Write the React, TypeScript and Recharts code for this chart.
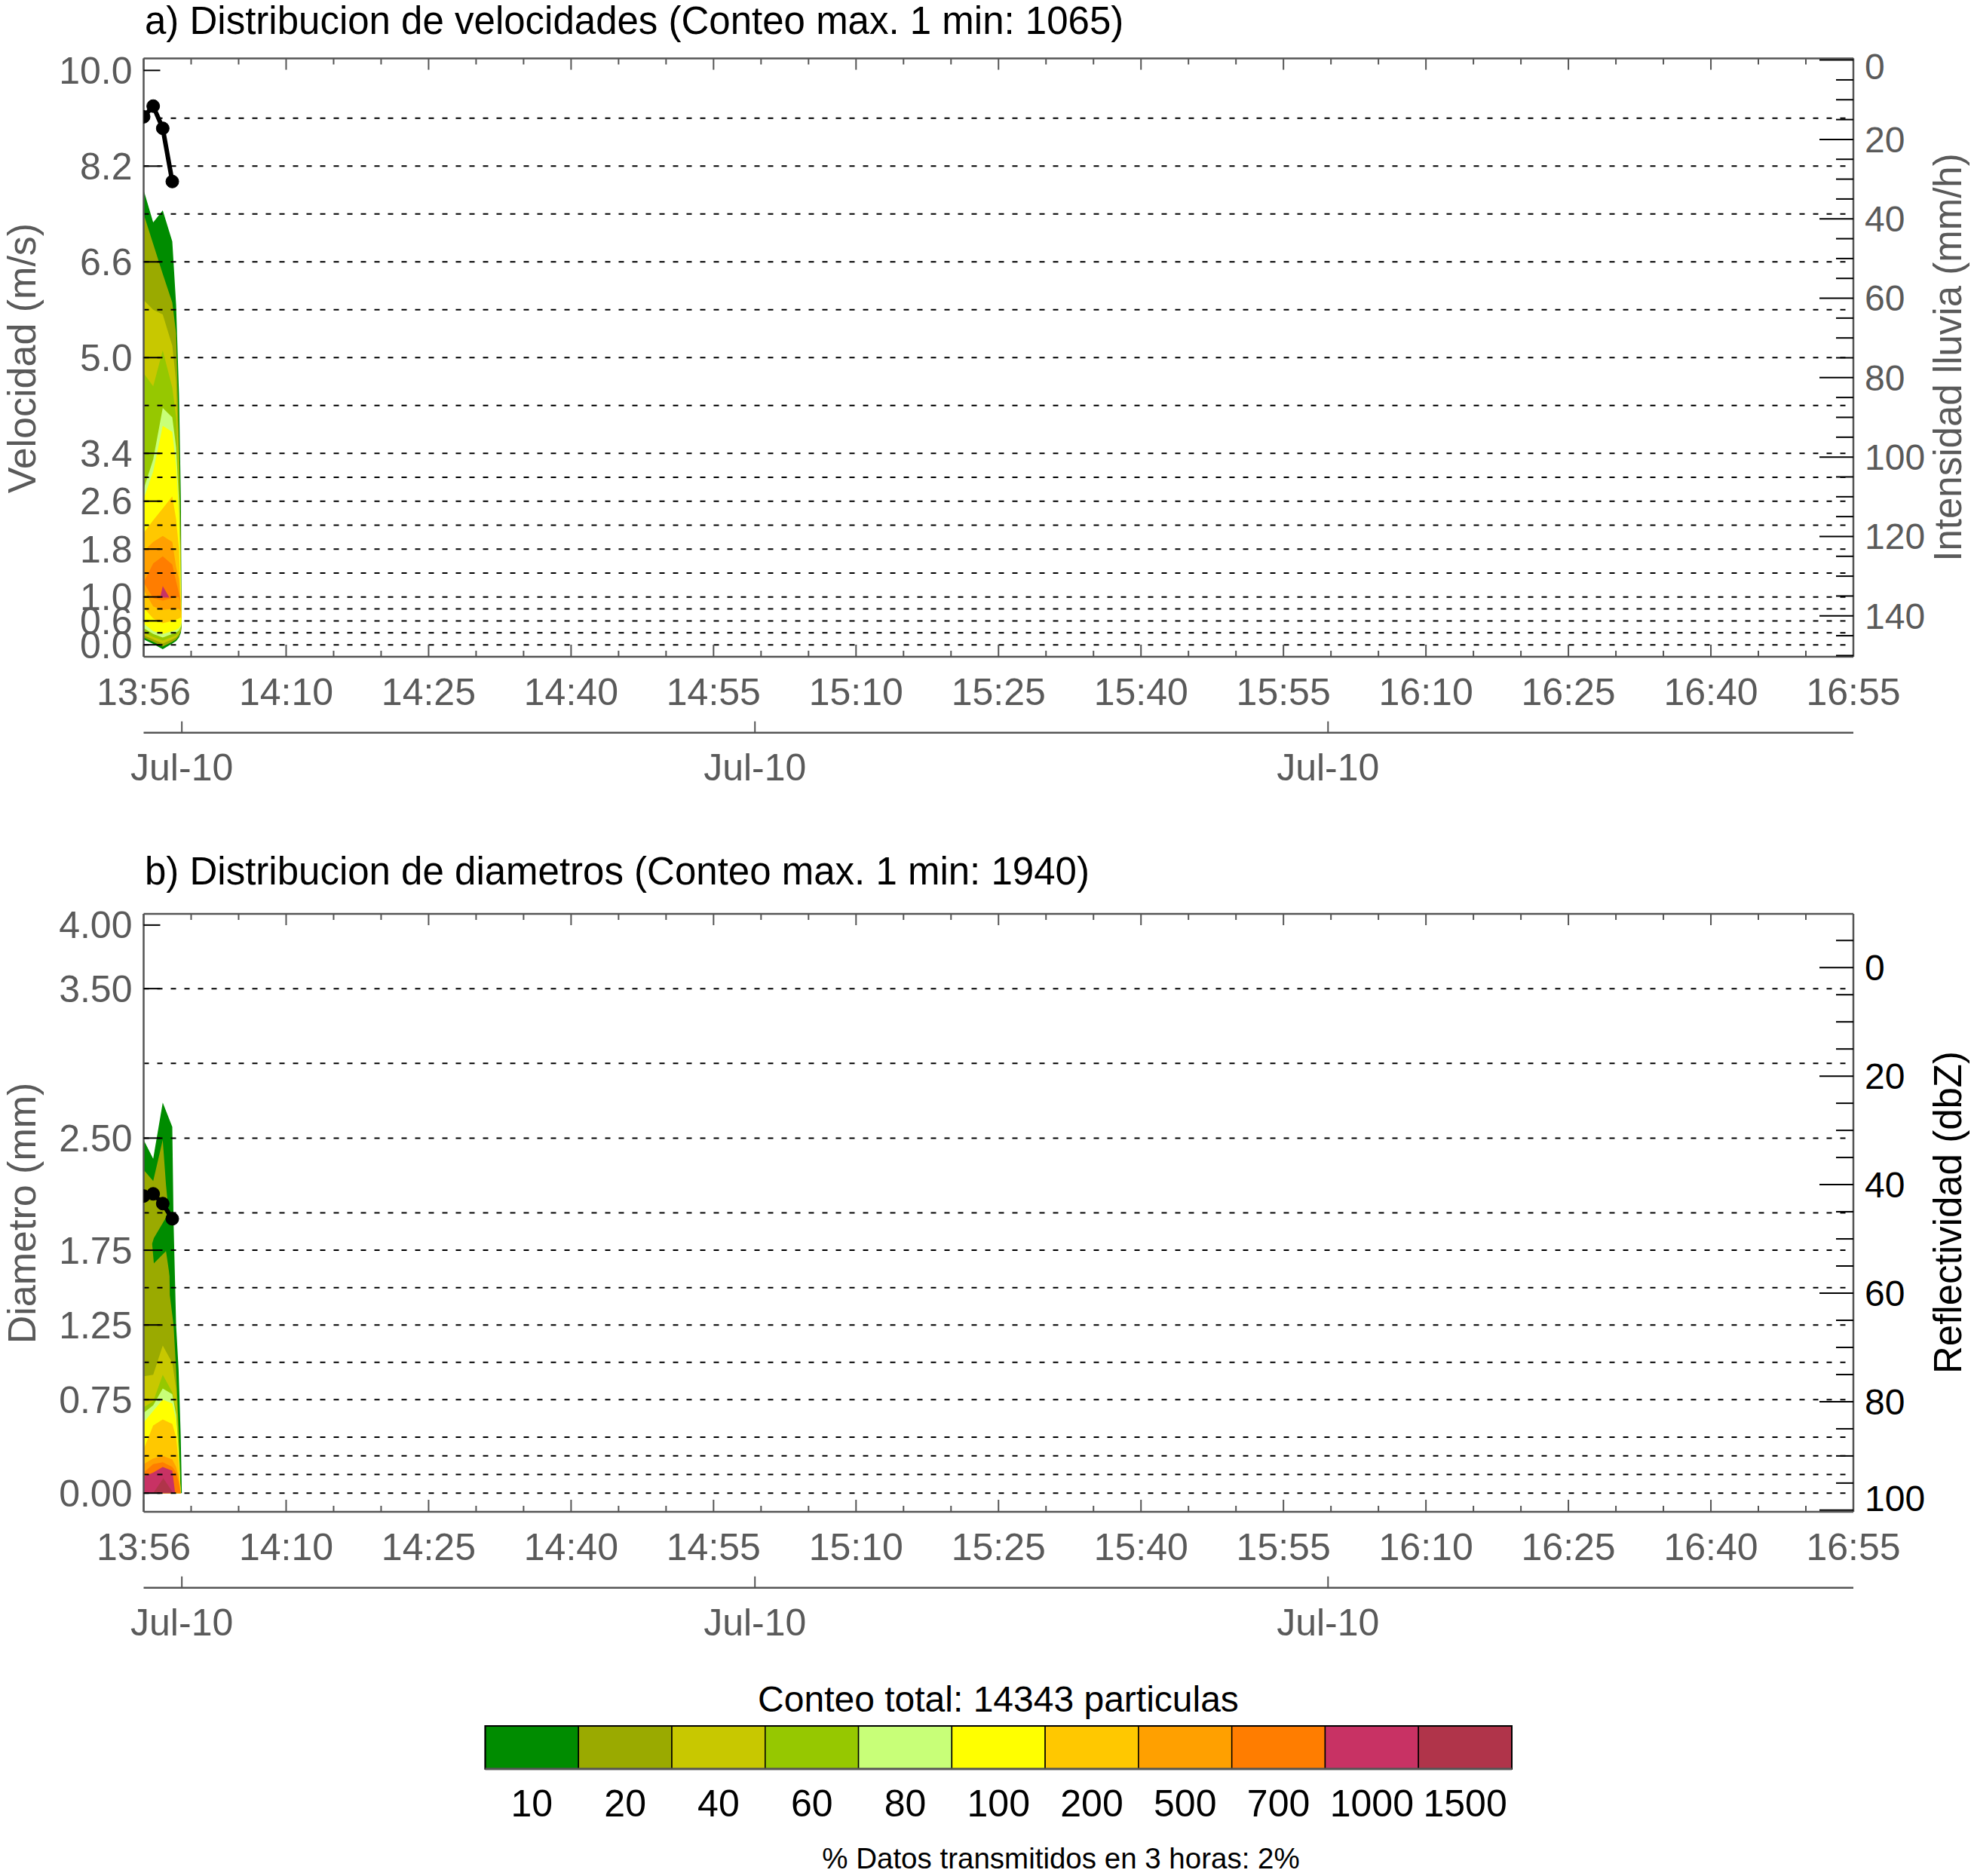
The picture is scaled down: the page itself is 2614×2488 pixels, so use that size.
import React from 'react';
import { ComposedChart, Area, Line, XAxis, YAxis, ReferenceLine } from 'recharts';

// ---------------- data ----------------
// time axis: minutes since 13:56, axis spans 179 min split in 12 labelled intervals
const TIME_SPAN = 179;
const timeTickLabels = ['13:56', '14:10', '14:25', '14:40', '14:55', '15:10', '15:25', '15:40', '15:55', '16:10', '16:25', '16:40', '16:55'];
const timeTicks = Array.from({ length: 37 }, (_, k) => (k * TIME_SPAN) / 36);
const dateTicks = [4, 64, 124];
const dateLabels = ['Jul-10', 'Jul-10', 'Jul-10'];

const velTickPos = [0, 2, 4, 8, 12, 16, 24, 32, 40, 48];
const velTickLabels = ['0.0', '0.6', '1.0', '1.8', '2.6', '3.4', '5.0', '6.6', '8.2', '10.0'];
const velGridPos = [0, 1, 2, 3, 4, 6, 8, 10, 12, 14, 16, 20, 24, 28, 32, 36, 40, 44];

const diamTickPos = [0, 5, 9, 13, 19, 27, 30.4];
const diamTickLabels = ['0.00', '0.75', '1.25', '1.75', '2.50', '3.50', '4.00'];
const diamGridPos = [0, 1, 2, 3, 5, 7, 9, 11, 13, 15, 19, 23, 27];

const rainTicks = [0, 5, 10, 15, 20, 25, 30, 35, 40, 45, 50, 55, 60, 65, 70, 75, 80, 85, 90, 95, 100, 105, 110, 115, 120, 125, 130, 135, 140, 145, 150];
const rainLabels = [0, 20, 40, 60, 80, 100, 120, 140];
const dbzTicks = [-5, 0, 5, 10, 15, 20, 25, 30, 35, 40, 45, 50, 55, 60, 65, 70, 75, 80, 85, 90, 95, 100];
const dbzLabels = [0, 20, 40, 60, 80, 100];

const lineMinutes = [0, 1, 2, 3];
const rainIntensity = [14.3, 11.6, 17.2, 30.6];
const reflectivity = [42.1, 41.7, 43.5, 46.3];

const levelLabels = ['10', '20', '40', '60', '80', '100', '200', '500', '700', '1000', '1500'];
const levelColors = ['#008c00', '#9aaa00', '#c8c800', '#96c800', '#c8ff78', '#ffff00', '#ffc800', '#ffa000', '#ff7d00', '#c83264', '#b0344a'];

// velocity contour bands (x = minutes since 13:56, values = velocity class position)
const vX = [0, 1, 2, 3, 3.4, 3.7, 3.9, 3.97];
const v10Hi = [38.0, 35.3, 36.3, 33.7, 28.4, 21.0, 12.0, 2.0];
const v10Lo = [0.45, 0.07, -0.37, 0.1, 0.3, 0.6, 1.0, 1.5];
const v20Hi = [36.0, 33.5, 31.0, 28.6, 26.0, 17.0, 8.0, 1.6];
const v20Lo = [0.6, 0.25, -0.15, 0.25, 0.45, 0.75, 1.15, 1.6];
const v40Hi = [28.8, 28.0, 27.6, 25.0, 22.0, 15.0, 6.0, 1.7];
const v40Lo = [0.8, 0.45, 0.1, 0.45, 0.6, 0.9, 1.3, 1.7];
const v60Hi = [22.7, 21.6, 24.6, 21.5, 19.0, 13.0, 5.0, 1.8];
const v60Lo = [1.0, 0.65, 0.35, 0.65, 0.8, 1.05, 1.4, 1.8];
const v80Hi = [13.0, 15.5, 19.8, 19.0, 16.5, 12.0, 4.5, 1.9];
const v80Lo = [1.4, 0.9, 0.6, 0.9, 1.0, 1.2, 1.5, 1.9];
const v100Hi = [12.2, 14.5, 18.3, 17.8, 15.0, 11.0, 4.0, 2.0];
const v100Lo = [1.77, 1.15, 0.9, 1.15, 1.25, 1.4, 1.7, 2.0];
const v200Hi = [9.35, 10.4, 11.4, 12.4, 10.5, 8.0, 3.3, 2.1];
const v200Lo = [3.1, 2.2, 1.8, 2.0, 2.1, 2.2, 2.3, 2.1];
const v500Hi = [7.8, 8.6, 9.1, 8.6, 6.5, 5.5, 3.0, 2.5];
const v500Lo = [4.6, 3.2, 2.9, 3.0, 3.0, 3.0, 2.8, 2.5];
const v700X = [0, 1, 2, 3, 3.4, 3.7, 3.9];
const v700Hi = [5.2, 6.8, 7.4, 6.7, 5.3, 4.3, 3.5];
const v700Lo = [5.2, 3.9, 3.7, 3.9, 4.0, 4.0, 3.5];
const v1000X = [1.73, 2.0, 2.7];
const v1000Hi = [3.95, 4.9, 3.95];
const v1000Lo = [3.95, 3.95, 3.95];

// diameter contour bands
const dX = [0, 1, 2, 3, 3.13, 3.4, 3.66, 3.88, 4.0];
const d10Hi = [18.9, 17.9, 20.9, 19.6, 14.6, 9.0, 6.6, 3.1, 0.0];
const d10Lo = [0, 0, 0, 0, 0, 0, 0, 0, 0];
const d20X = [0, 1, 2, 2.34, 2.6, 2.74, 3.13, 3.4, 3.66, 3.88];
const d20Hi = [17.3, 16.7, 18.9, 16.5, 15.1, 10.6, 9.0, 6.6, 3.5, 0.0];
const d20Lo = [0, 0, 0, 0, 0, 0, 0, 0, 0, 0];
const dTongueX = [0.89, 1.07, 2.34, 2.9];
const dTongueHi = [13.35, 13.65, 14.75, 16.0];
const dTongueLo = [13.35, 12.3, 12.95, 11.0];
const dInX = [0, 1, 2, 3, 3.4, 3.66, 3.88];
const dInLo = [0, 0, 0, 0, 0, 0, 0];
const d40Hi = [6.25, 6.33, 7.9, 6.97, 5.6, 3.0, 0.0];
const d60Hi = [4.6, 4.9, 6.33, 5.4, 4.5, 2.5, 0.0];
const d80Hi = [4.3, 4.7, 5.6, 5.3, 4.2, 2.3, 0.0];
const d100Hi = [3.78, 4.4, 5.0, 4.8, 3.9, 2.1, 0.0];
const d200Hi = [2.35, 3.62, 3.94, 3.7, 3.0, 1.7, 0.0];
const d500Hi = [1.55, 1.85, 2.0, 1.8, 1.4, 0.9, 0.0];
const d700Hi = [1.1, 1.55, 1.65, 1.4, 1.1, 0.6, 0.0];
const d1000X = [0, 1, 2, 3, 3.3];
const d1000Hi = [0.9, 1.1, 1.4, 1.2, 0.0];
const d1000Lo = [0, 0, 0, 0, 0];
const d1500X = [1.0, 2.06, 3.1];
const d1500Hi = [0.0, 0.8, 0.0];
const d1500Lo = [0, 0, 0];

// ---------------- layout / style ----------------
const W = 2614;
const H = 2488;
const PLOT_LEFT = 190.5;
const PLOT_RIGHT = 2458;
const X_MAIN_H = 100.7;
const X_DATE_H = 60;
const GREY = '#5a5a5a';
const AXIS = '#555555';
const FONT = '"Liberation Sans", Arial, Helvetica, sans-serif';

type Band = { color: string; x: number[]; lo: number[]; hi: number[] };
const band = (color: string, x: number[], lo: number[], hi: number[]): Band => ({ color, x, lo, hi });

const velBands: Band[] = [
  band(levelColors[0], vX, v10Lo, v10Hi),
  band(levelColors[1], vX, v20Lo, v20Hi),
  band(levelColors[2], vX, v40Lo, v40Hi),
  band(levelColors[3], vX, v60Lo, v60Hi),
  band(levelColors[4], vX, v80Lo, v80Hi),
  band(levelColors[5], vX, v100Lo, v100Hi),
  band(levelColors[6], vX, v200Lo, v200Hi),
  band(levelColors[7], vX, v500Lo, v500Hi),
  band(levelColors[8], v700X, v700Lo, v700Hi),
  band(levelColors[9], v1000X, v1000Lo, v1000Hi),
];

const diamBands: Band[] = [
  band(levelColors[0], dX, d10Lo, d10Hi),
  band(levelColors[1], d20X, d20Lo, d20Hi),
  band(levelColors[0], dTongueX, dTongueLo, dTongueHi),
  band(levelColors[2], dInX, dInLo, d40Hi),
  band(levelColors[3], dInX, dInLo, d60Hi),
  band(levelColors[4], dInX, dInLo, d80Hi),
  band(levelColors[5], dInX, dInLo, d100Hi),
  band(levelColors[6], dInX, dInLo, d200Hi),
  band(levelColors[7], dInX, dInLo, d500Hi),
  band(levelColors[8], dInX, dInLo, d700Hi),
  band(levelColors[9], d1000X, d1000Lo, d1000Hi),
  band(levelColors[10], d1500X, d1500Lo, d1500Hi),
];

const rowsOf = (b: Band) => b.x.map((m, i) => ({ m, range: [b.lo[i], b.hi[i]] }));

// ---------------- ticks ----------------
const tickIndex = (v: number) => Math.round((v * 36) / TIME_SPAN);

const TimeTick = (p: any) => {
  const { x, y, payload } = p;
  const k = tickIndex(payload.value);
  const major = k % 3 === 0;
  return (
    <g>
      <line x1={x} x2={x} y1={y} y2={y - (major ? 16 : 8)} stroke={AXIS} strokeWidth={2} />
      {major && (
        <text x={x} y={y + 46} dy="0.35em" textAnchor="middle" fontSize={50} fill={GREY} fontFamily={FONT}>
          {timeTickLabels[k / 3]}
        </text>
      )}
    </g>
  );
};

const TopTick = (p: any) => {
  const { x, y, payload } = p;
  const major = tickIndex(payload.value) % 3 === 0;
  return <line x1={x} x2={x} y1={y} y2={y + (major ? 15 : 8)} stroke={AXIS} strokeWidth={2} />;
};

const DateTick = (p: any) => {
  const { x, y, index } = p;
  return (
    <g>
      <line x1={x} x2={x} y1={y} y2={y - 15} stroke={AXIS} strokeWidth={2} />
      <text x={x} y={y + 46} dy="0.35em" textAnchor="middle" fontSize={50} fill={GREY} fontFamily={FONT}>
        {dateLabels[index]}
      </text>
    </g>
  );
};

const makeLeftTick = (pos: number[], labels: string[]) => (p: any) => {
  const { x, y, payload } = p;
  const i = pos.indexOf(payload.value);
  return (
    <g>
      <line x1={x} x2={x + 22} y1={y} y2={y} stroke="#000" strokeWidth={2} />
      <text x={x - 15} y={y} dy="0.35em" textAnchor="end" fontSize={50} fill={GREY} fontFamily={FONT}>
        {labels[i]}
      </text>
    </g>
  );
};

const makeRightTick = (labels: number[], color: string, plotTop: number, plotBottom: number) => (p: any) => {
  const { x, y, payload } = p;
  const v = payload.value;
  const major = labels.indexOf(v) >= 0;
  const ly = Math.min(Math.max(y, plotTop + 11), plotBottom - 18);
  return (
    <g>
      <line x1={x} x2={x - (major ? 45 : 23)} y1={y} y2={y} stroke="#000" strokeWidth={2} />
      {major && (
        <text x={x + 15} y={ly} dy="0.35em" textAnchor="start" fontSize={48} fill={color} fontFamily={FONT}>
          {String(v)}
        </text>
      )}
    </g>
  );
};

// ---------------- panel ----------------
type PanelProps = {
  chartTop: number;
  chartHeight: number;
  plotTop: number;
  plotBottom: number;
  leftDomain: [number, number];
  leftTickPos: number[];
  leftTickLabels: string[];
  gridPos: number[];
  rightDomain: [number, number];
  rightTicks: number[];
  rightLabels: number[];
  rightColor: string;
  bands: Band[];
  lineValues: number[];
};

function Panel(props: PanelProps) {
  const { chartTop, chartHeight, plotTop, plotBottom, leftDomain, leftTickPos, leftTickLabels, gridPos, rightDomain, rightTicks, rightLabels, rightColor, bands, lineValues } = props;
  const mBottom = chartHeight - plotBottom - X_MAIN_H - X_DATE_H;
  const lineData = lineMinutes.map((m, i) => ({ m, v: lineValues[i] }));
  return (
    <div style={{ position: 'absolute', left: 0, top: chartTop }}>
      <ComposedChart
        width={W}
        height={chartHeight}
        margin={{ top: plotTop - 1, left: PLOT_LEFT - 1, right: W - PLOT_RIGHT - 1, bottom: mBottom }}
      >
        <XAxis
          xAxisId="b"
          type="number"
          dataKey="m"
          domain={[0, TIME_SPAN]}
          allowDataOverflow
          ticks={dateTicks}
          interval={0}
          height={X_DATE_H}
          tickSize={0}
          tickMargin={0}
          tickLine={false}
          axisLine={{ stroke: AXIS, strokeWidth: 2.5 }}
          tick={(p: any) => <DateTick {...p} />}
        />
        <XAxis
          xAxisId="a"
          type="number"
          dataKey="m"
          domain={[0, TIME_SPAN]}
          allowDataOverflow
          ticks={timeTicks}
          interval={0}
          height={X_MAIN_H}
          tickSize={0}
          tickMargin={0}
          tickLine={false}
          axisLine={{ stroke: AXIS, strokeWidth: 2.5 }}
          tick={(p: any) => <TimeTick {...p} />}
        />
        <XAxis
          xAxisId="c"
          orientation="top"
          type="number"
          dataKey="m"
          domain={[0, TIME_SPAN]}
          allowDataOverflow
          ticks={timeTicks}
          interval={0}
          height={1}
          tickSize={0}
          tickMargin={0}
          tickLine={false}
          axisLine={{ stroke: AXIS, strokeWidth: 2.5 }}
          tick={(p: any) => <TopTick {...p} />}
        />
        <YAxis
          yAxisId="left"
          type="number"
          domain={leftDomain}
          allowDataOverflow
          ticks={leftTickPos}
          interval={0}
          width={1}
          tickSize={0}
          tickMargin={0}
          tickLine={false}
          axisLine={{ stroke: AXIS, strokeWidth: 2.5 }}
          tick={makeLeftTick(leftTickPos, leftTickLabels)}
        />
        <YAxis
          yAxisId="right"
          orientation="right"
          type="number"
          domain={rightDomain}
          reversed
          allowDataOverflow
          ticks={rightTicks}
          interval={0}
          width={1}
          tickSize={0}
          tickMargin={0}
          tickLine={false}
          axisLine={{ stroke: AXIS, strokeWidth: 2.5 }}
          tick={makeRightTick(rightLabels, rightColor, plotTop, plotBottom)}
        />
        {bands.map((b, i) => (
          <Area
            key={'band' + i}
            xAxisId="a"
            yAxisId="left"
            data={rowsOf(b)}
            dataKey="range"
            type="linear"
            stroke="none"
            fill={b.color}
            fillOpacity={1}
            dot={false}
            activeDot={false}
            isAnimationActive={false}
          />
        ))}
        {gridPos.map((g) => (
          <ReferenceLine
            key={'g' + g}
            xAxisId="a"
            yAxisId="left"
            y={g}
            stroke="#000"
            strokeWidth={2}
            strokeDasharray="7 11"
          />
        ))}
        <Line
          xAxisId="a"
          yAxisId="right"
          data={lineData}
          dataKey="v"
          type="linear"
          stroke="#000"
          strokeWidth={6}
          dot={{ r: 8.5, fill: '#000', stroke: '#000', strokeWidth: 1 }}
          activeDot={false}
          isAnimationActive={false}
        />
      </ComposedChart>
    </div>
  );
}

// ---------------- colorbar / texts ----------------
const CB_LEFT = 643.5;
const CB_RIGHT = 2005;
const CB_TOP = 2289;
const CB_BOTTOM = 2346;

function Overlay() {
  const cw = (CB_RIGHT - CB_LEFT) / levelColors.length;
  return (
    <svg width={W} height={H} style={{ position: 'absolute', left: 0, top: 0, pointerEvents: 'none' }}>
      <g fontFamily={FONT}>
        <text x={192} y={45} fontSize={51} fill="#000">a) Distribucion de velocidades (Conteo max. 1 min: 1065)</text>
        <text x={192} y={1173} fontSize={51} fill="#000">b) Distribucion de diametros (Conteo max. 1 min: 1940)</text>
        <text x={47} y={475} fontSize={52} fill={GREY} textAnchor="middle" transform="rotate(-90 47 475)">Velocidad (m/s)</text>
        <text x={47} y={1609} fontSize={52} fill={GREY} textAnchor="middle" transform="rotate(-90 47 1609)">Diametro (mm)</text>
        <text x={2601} y={474} fontSize={51} fill={GREY} textAnchor="middle" transform="rotate(-90 2601 474)">Intensidad lluvia (mm/h)</text>
        <text x={2601} y={1608} fontSize={51} fill="#000" textAnchor="middle" transform="rotate(-90 2601 1608)">Reflectividad (dbZ)</text>
        <text x={1324} y={2270} fontSize={48} fill="#000" textAnchor="middle">Conteo total: 14343 particulas</text>
        {levelColors.map((c, i) => (
          <rect key={'cb' + i} x={CB_LEFT + i * cw} y={CB_TOP} width={cw} height={CB_BOTTOM - CB_TOP} fill={c} stroke="#000" strokeWidth={1.5} />
        ))}
        <rect x={CB_LEFT} y={CB_TOP} width={CB_RIGHT - CB_LEFT} height={CB_BOTTOM - CB_TOP} fill="none" stroke="#000" strokeWidth={2} />
        <line x1={CB_LEFT} x2={CB_RIGHT} y1={CB_BOTTOM} y2={CB_BOTTOM} stroke={AXIS} strokeWidth={3} />
        {levelLabels.map((l, i) => (
          <text key={'cbl' + i} x={CB_LEFT + (i + 0.5) * cw} y={2409} fontSize={50} fill="#000" textAnchor="middle">{l}</text>
        ))}
        <text x={1407} y={2478} fontSize={38.5} fill="#000" textAnchor="middle">% Datos transmitidos en 3 horas: 2%</text>
      </g>
    </svg>
  );
}

export default function App() {
  return (
    <div style={{ position: 'absolute', left: 0, top: 0, width: W, height: H, background: '#fff', fontFamily: FONT }}>
      <Panel
        chartTop={0}
        chartHeight={1100}
        plotTop={77.5}
        plotBottom={871}
        leftDomain={[-1, 49]}
        leftTickPos={velTickPos}
        leftTickLabels={velTickLabels}
        gridPos={velGridPos}
        rightDomain={[-0.4, 150.3]}
        rightTicks={rainTicks}
        rightLabels={rainLabels}
        rightColor={GREY}
        bands={velBands}
        lineValues={rainIntensity}
      />
      <Panel
        chartTop={1100}
        chartHeight={1388}
        plotTop={112}
        plotBottom={905}
        leftDomain={[-1, 31]}
        leftTickPos={diamTickPos}
        leftTickLabels={diamTickLabels}
        gridPos={diamGridPos}
        rightDomain={[-9.9, 100.3]}
        rightTicks={dbzTicks}
        rightLabels={dbzLabels}
        rightColor="#000"
        bands={diamBands}
        lineValues={reflectivity}
      />
      <Overlay />
    </div>
  );
}
